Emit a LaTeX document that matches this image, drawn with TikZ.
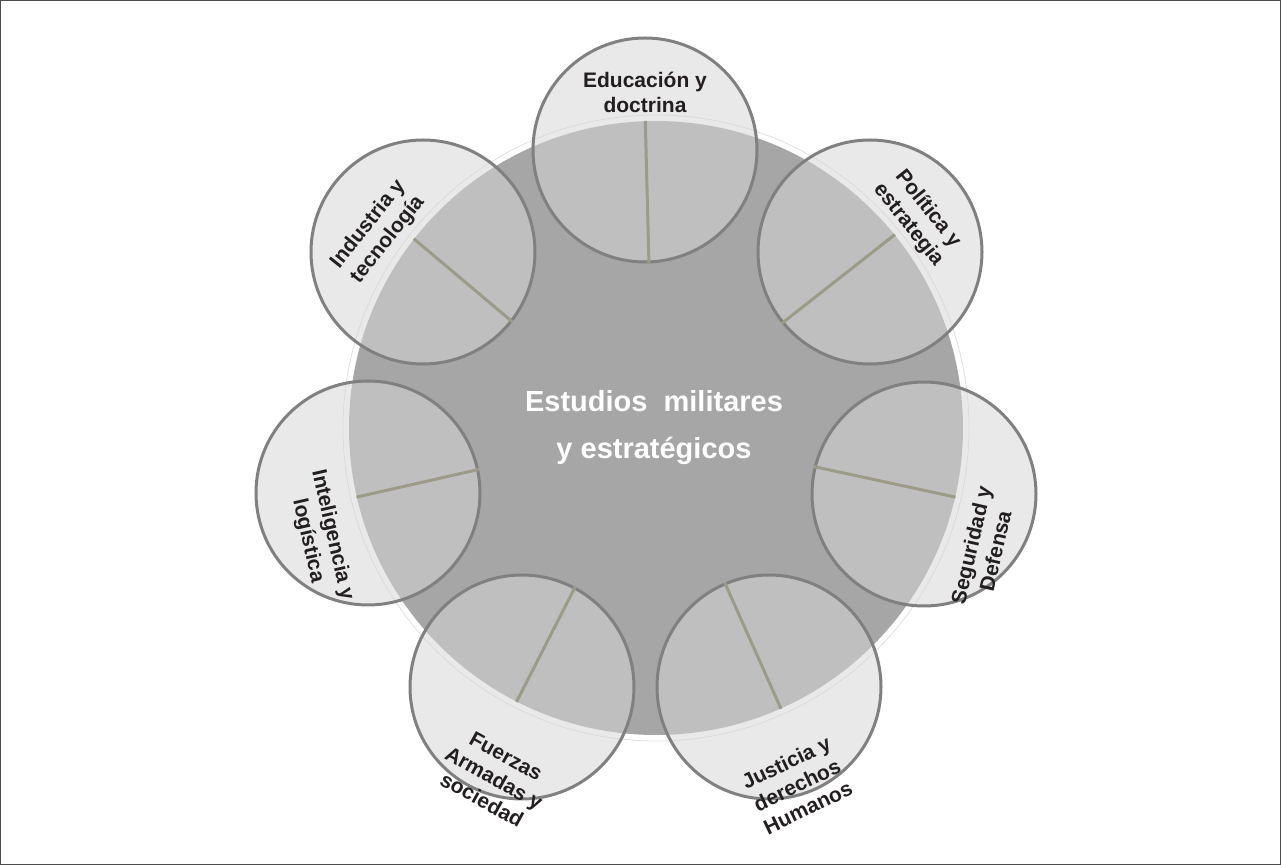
\documentclass[tikz,border=0pt]{standalone}
\usepackage{fontspec}
\setmainfont{Liberation Sans}

\definecolor{bigGray}{RGB}{166,166,166}
\definecolor{areaFill}{RGB}{214,214,214}
\definecolor{rimGray}{RGB}{128,128,128}
\definecolor{spokeOlive}{RGB}{156,155,134}
\definecolor{labelInk}{RGB}{35,31,32}

\tikzset{
  core/.style={circle, fill=bigGray, inner sep=0pt, minimum size=307pt},
  area/.style={circle, draw=rimGray, line width=1.5pt, fill=areaFill, fill opacity=0.53,
    inner sep=0pt, minimum size=112pt},
  spokeline/.style={spokeOlive, line width=1.5pt},
  arealabel/.style={align=center, text=labelInk, inner sep=0pt,
    font=\bfseries\fontsize{10.5}{12.5}\selectfont},
  corelabel/.style={align=center, text=white, inner sep=0pt,
    font=\bfseries\fontsize{14.5}{23.5}\selectfont},
}

\begin{document}
\begin{tikzpicture}[x=0.5pt, y=-0.5pt]
        \useasboundingbox (0,0) rectangle (1281,865);

        % Frame
        \draw[black!70, line width=0.6pt] (0.5,0.5) rectangle (1280.5,864.5);

        % Central circle
        \draw[gray!25, line width=0.4pt] (656,428) circle[radius=313];
        \node[core] (big) at (656,428) {};

        % Surrounding circles
        \node[area] (edu) at (645,150) {};
        \node[area] (pol) at (870,252) {};
        \node[area] (seg) at (924,494) {};
        \node[area] (jus) at (769,687) {};
        \node[area] (fue) at (522,687) {};
        \node[area] (intl) at (368,493) {};
        \node[area] (ind) at (423,252) {};

        % Spokes towards the centre
        \foreach \n/\a [evaluate=\a as \b using \a+180] in
          {edu/92.27, pol/39.43, seg/-13.83, jus/-66.43, fue/-117.36, intl/-167.28, ind/142.94}
          \draw[spokeline] (\n.\b) -- (big.\a);

        % Centre text
        \node[corelabel] (title) at (654,428) {Estudios\ \ militares\\y estratégicos};

        % Labels of the circles
        \node[arealabel] (eduText) at (645,92) {Educación y\\doctrina};
        \node[arealabel, rotate=-51.43] (polText) at (918,217) {Política y\\estrategia};
        \node[arealabel, rotate=77.14] (segText) at (983,548) {Seguridad y\\Defensa};
        \node[arealabel, rotate=25.71] (jusText) at (797,785) {Justicia y\\derechos\\Humanos};
        \node[arealabel, rotate=-29] (fueText) at (494,778) {Fuerzas\\Armadas y\\sociedad};
        \node[arealabel, rotate=-77.14] (intText) at (320,538) {Inteligencia y\\logística};
        \node[arealabel, rotate=51.43] (indText) at (378,232) {Industria y\\tecnología};
    \end{tikzpicture}
\end{document}
